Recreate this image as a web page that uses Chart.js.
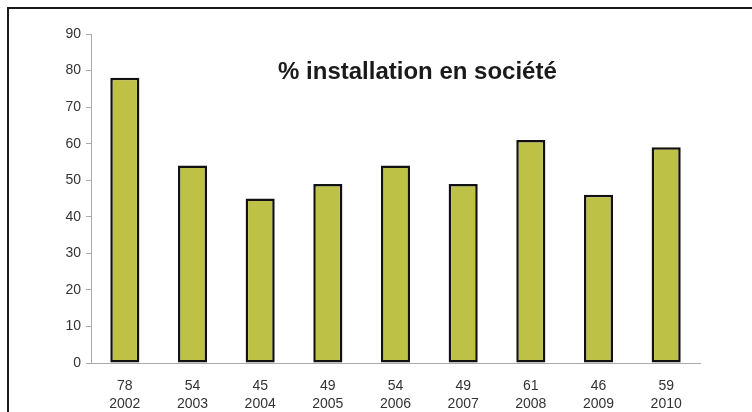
<!DOCTYPE html>
<html>
<head>
<meta charset="utf-8">
<script src="https://cdn.jsdelivr.net/npm/chart.js@4/dist/chart.umd.min.js"></script>
<style>
  html, body { margin: 0; padding: 0; background: #fff; }
  #wrap { position: relative; width: 752px; height: 412px; overflow: hidden; }
  #frame { position: absolute; left: 7px; top: 7px; width: 800px; height: 500px; border-left: 2px solid #1a1a1a; border-top: 2px solid #1a1a1a; }
  canvas { position: absolute; left: 0; top: 0; }
</style>
</head>
<body>
<div id="wrap">
  <div id="frame"></div>
  <canvas id="chart" width="752" height="412"></canvas>
</div>
<script>
var years = ['2002', '2003', '2004', '2005', '2006', '2007', '2008', '2009', '2010'];
var values = [78, 54, 45, 49, 54, 49, 61, 46, 59];
var yTicks = [0, 10, 20, 30, 40, 50, 60, 70, 80, 90];
var title = '% installation en société';

var labels = years.map(function (y, i) {
	return [String(values[i]), y];
});

var titlePlugin = {
	id: 'innerTitle',
	afterDraw: function (chart) {
		var ctx = chart.ctx;
		var area = chart.chartArea;
		ctx.save();
		ctx.font = 'bold 24px "Liberation Sans", Arial, sans-serif';
		ctx.fillStyle = '#1a1a1a';
		ctx.textAlign = 'center';
		ctx.textBaseline = 'middle';
		ctx.fillText(title, area.left + (area.right - area.left) * 0.536, 72);
		ctx.restore();
	}
};

var ctx = document.getElementById('chart').getContext('2d');
var chart = new Chart(ctx, {
	type: 'bar',
	data: {
		labels: labels,
		datasets: [{
			data: values,
			backgroundColor: '#bdc246',
			borderColor: '#111',
			borderWidth: 2.5,
			borderSkipped: false,
			barPercentage: 0.43,
			categoryPercentage: 1
		}]
	},
	options: {
		responsive: false,
		animation: false,
		layout: {
			padding: { left: 0, right: 52, top: 34, bottom: 0 }
		},
		plugins: {
			legend: { display: false },
			tooltip: { enabled: false }
		},
		scales: {
			x: {
				grid: { display: false, drawTicks: false },
				border: { color: '#aaa', width: 1 },
				ticks: {
					color: '#333',
					padding: 14,
					maxRotation: 0,
					font: { family: '"Liberation Sans", Arial, sans-serif', size: 14, lineHeight: 1.3 }
				},
				afterFit: function (scale) { scale.height = 49; }
			},
			y: {
				min: 0,
				max: 90,
				afterBuildTicks: function (scale) {
					scale.ticks = yTicks.map(function (v) { return { value: v }; });
				},
				grid: { drawOnChartArea: false, color: '#aaa', tickLength: 5 },
				border: { color: '#aaa', width: 1 },
				ticks: {
					color: '#333',
					padding: 5,
					font: { family: '"Liberation Sans", Arial, sans-serif', size: 14 }
				},
				afterFit: function (scale) { scale.width = 91; }
			}
		}
	},
	plugins: [titlePlugin]
});
</script>
</body>
</html>
